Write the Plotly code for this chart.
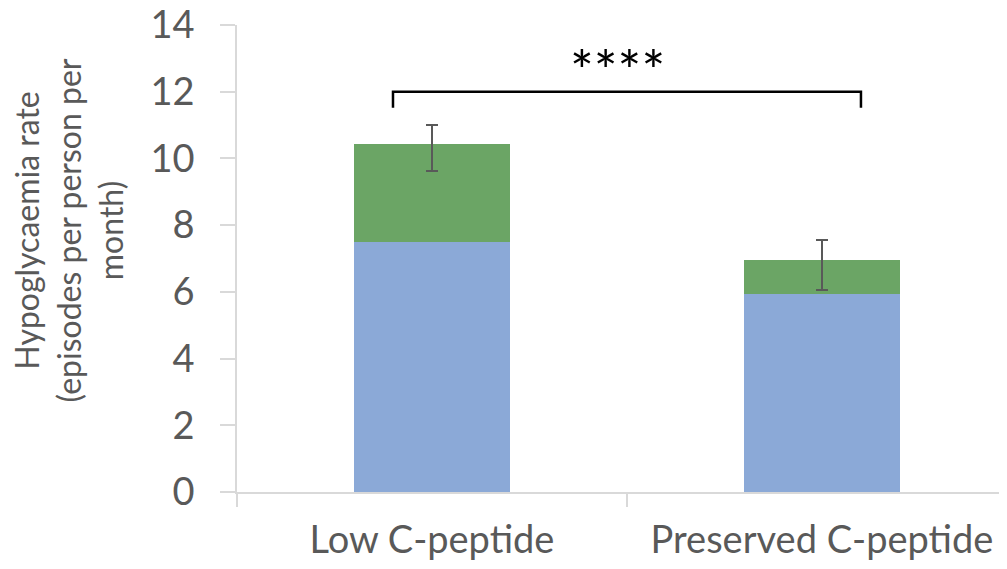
import plotly.graph_objects as go

categories = ["Low C-peptide", "Preserved C-peptide"]
lower_values = [7.49, 5.94]
upper_values = [2.94, 1.01]
err_plus = [0.57, 0.59]
err_minus = [0.81, 0.90]
y_ticks = [0, 2, 4, 6, 8, 10, 12, 14]
sig_label = "****"

blue = "#8BA9D7"
green = "#6BA565"
grey = "#595959"
font_family = "Lato"

fig = go.Figure()
fig.add_trace(go.Bar(x=categories, y=lower_values, marker=dict(color=blue, line=dict(width=0)),
                     width=0.4, showlegend=False))
fig.add_trace(go.Bar(x=categories, y=upper_values, marker=dict(color=green, line=dict(width=0)),
                     width=0.4, showlegend=False,
                     error_y=dict(type="data", symmetric=False, array=err_plus, arrayminus=err_minus,
                                  color=grey, thickness=2, width=6)))

# significance bracket
y_br = 12.0
fig.add_shape(type="path", path=f"M -0.1,{y_br-0.48} L -0.1,{y_br} L 1.1,{y_br} L 1.1,{y_br-0.48}",
              xref="x", yref="y", line=dict(color="black", width=2.5))
fig.add_annotation(x=0.5, y=y_br, xref="x", yref="y", text=sig_label, showarrow=False,
                   yshift=22, xshift=-9, font=dict(family=font_family, size=56, color="black"))

fig.add_annotation(xref="paper", yref="paper", x=-0.216, y=0.56, xanchor="center", yanchor="middle",
                   text="Hypoglycaemia rate<br>(episodes per person per<br>month)", showarrow=False,
                   textangle=-90, font=dict(family=font_family, size=32, color=grey))

fig.update_layout(
    barmode="stack",
    width=1007, height=569,
    margin=dict(l=229, r=0, t=17, b=85),
    paper_bgcolor="white", plot_bgcolor="white",
    font=dict(family=font_family, color=grey),
    xaxis=dict(range=[-0.5, 1.495], showline=True, linecolor="#D9D9D9", linewidth=1.5,
               ticks="outside", tickson="boundaries", ticklen=13, tickcolor="#D9D9D9", tickwidth=1.5,
               tickfont=dict(size=38, color=grey), ticklabelstandoff=14, showgrid=False,
               automargin=False, ticklabeloverflow="allow"),
    yaxis=dict(range=[0, 14], tickvals=y_ticks, showline=True, linecolor="#D9D9D9", linewidth=1.5,
               ticks="outside", ticklen=15, tickcolor="#D9D9D9", tickwidth=1.5,
               tickfont=dict(size=38, color=grey), ticklabelstandoff=18, showgrid=False, zeroline=False,
               automargin=False, ticklabeloverflow="allow"),
)
fig.write_html("out.html")
